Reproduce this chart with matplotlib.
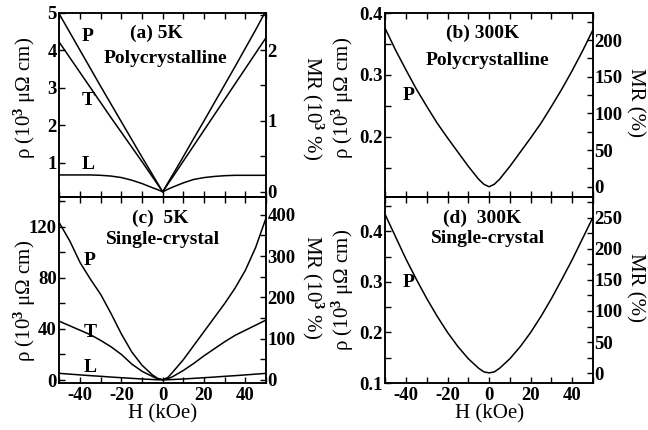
import matplotlib
matplotlib.use("Agg")
import matplotlib.pyplot as plt
from matplotlib.ticker import MultipleLocator

# field grid shared by every curve (kOe)
H = [-50, -45, -40, -35, -30, -25, -20, -15, -10, -5, -2.5, 0,
     2.5, 5, 10, 15, 20, 25, 30, 35, 40, 45, 50]

# (a) 5K polycrystalline, rho in 10^3 uOhm cm
rho_a_P = [4.95, 4.47, 3.99, 3.51, 3.03, 2.56, 2.09, 1.62, 1.15, 0.69, 0.46, 0.23,
           0.47, 0.70, 1.17, 1.65, 2.12, 2.60, 3.08, 3.56, 4.05, 4.54, 5.05]
rho_a_T = [4.20, 3.80, 3.40, 3.00, 2.60, 2.20, 1.81, 1.42, 1.03, 0.63, 0.43, 0.23,
           0.44, 0.64, 1.05, 1.46, 1.87, 2.28, 2.69, 3.10, 3.51, 3.92, 4.33]
rho_a_L = [0.68, 0.68, 0.68, 0.68, 0.67, 0.65, 0.61, 0.54, 0.45, 0.34, 0.29, 0.23,
           0.30, 0.36, 0.47, 0.56, 0.61, 0.64, 0.66, 0.67, 0.67, 0.67, 0.67]

# (b) 300K polycrystalline
rho_b_P = [0.375, 0.340, 0.308, 0.277, 0.249, 0.222, 0.198, 0.175, 0.152, 0.131, 0.123, 0.119,
           0.123, 0.131, 0.152, 0.175, 0.198, 0.222, 0.249, 0.277, 0.307, 0.339, 0.373]

# (c) 5K single crystal
rho_c_P = [123, 109, 92, 79, 67, 52, 36, 22, 11.5, 4, 1.3, 0.2,
           2, 6.5, 16, 27, 38, 49, 60, 72, 86, 104, 127]
rho_c_T = [46, 42.5, 39, 35.5, 31, 26, 20, 12.5, 6.8, 2.8, 1, 0.2,
           1, 2.8, 7.5, 13, 19, 24.5, 30, 35, 39, 43, 47]
rho_c_L = [5.2, 4.6, 4.0, 3.4, 2.9, 2.3, 1.8, 1.3, 0.8, 0.4, 0.2, 0.1,
           0.2, 0.4, 0.8, 1.3, 1.8, 2.3, 2.9, 3.4, 4.0, 4.6, 5.2]

# (d) 300K single crystal
rho_d_P = [0.433, 0.389, 0.345, 0.305, 0.267, 0.232, 0.200, 0.172, 0.148, 0.129, 0.122, 0.120,
           0.122, 0.129, 0.148, 0.172, 0.200, 0.232, 0.267, 0.305, 0.344, 0.386, 0.428]

plt.rcParams.update({
    "font.family": "Liberation Serif",
    "font.weight": "bold",
    "font.size": 13.5,
    "mathtext.fontset": "custom",
    "mathtext.rm": "Liberation Serif:bold",
    "mathtext.default": "rm",
    "axes.unicode_minus": False,
    "axes.linewidth": 1.1,
    "lines.linewidth": 1.1,
})

RHO_LABEL = "ρ (10$^3$ μΩ cm)"


def setup_panel(ax, ylim, ymaj, ymin, mrlim, mrmaj, mrmin, mrlabel,
                show_x, rho_xy, mr_xy):
    ax.set_xlim(-50, 50)
    ax.set_ylim(*ylim)
    ax.xaxis.set_major_locator(MultipleLocator(20))
    ax.xaxis.set_minor_locator(MultipleLocator(10))
    ax.yaxis.set_major_locator(MultipleLocator(ymaj))
    ax.yaxis.set_minor_locator(MultipleLocator(ymin))
    ax.tick_params(which="both", direction="in", top=True, bottom=True,
                   left=True, right=False, length=4, width=1.0)
    ax.tick_params(axis="y", pad=2)
    ax.tick_params(axis="x", pad=3, labelbottom=show_x)
    ax.set_ylabel(RHO_LABEL, fontsize=15)
    ax.yaxis.set_label_coords(*rho_xy)
    if show_x:
        ax.set_xlabel("H (kOe)", fontsize=15, labelpad=0)

    tw = ax.twinx()
    tw.set_ylim(*mrlim)
    tw.yaxis.set_major_locator(MultipleLocator(mrmaj))
    tw.yaxis.set_minor_locator(MultipleLocator(mrmin))
    tw.tick_params(which="both", direction="in", length=4, width=1.0, pad=1)
    tw.set_ylabel(mrlabel, fontsize=15, rotation=270, va="bottom")
    tw.yaxis.set_label_coords(*mr_xy)
    return tw


def label(ax, x, y, s, size=14):
    ax.text(x, y, s, transform=ax.transAxes, ha="center", va="center", fontsize=size)


fig = plt.figure(figsize=(6.48, 4.30), dpi=100)
ax_a = fig.add_axes([0.0918, 0.5407, 0.3187, 0.4302])
ax_c = fig.add_axes([0.0918, 0.1093, 0.3187, 0.4314])
ax_b = fig.add_axes([0.5945, 0.5407, 0.3206, 0.4302])
ax_d = fig.add_axes([0.5945, 0.1093, 0.3206, 0.4314])

setup_panel(ax_a, (0.08, 5.0), 1, 1, (-0.082, 2.53), 1, 0.5, "MR (10$^3$ %)",
            False, (-0.105, 0.54), (1.165, 0.486))
setup_panel(ax_b, (0.1016, 0.401), 0.1, 0.05, (-14.7, 237.5), 50, 25, "MR (%)",
            False, (-0.14, 0.54), (1.155, 0.516))
setup_panel(ax_c, (-2.35, 143.1), 40, 20, (-7.3, 442), 100, 50, "MR (10$^3$ %)",
            True, (-0.105, 0.44), (1.165, 0.517))
setup_panel(ax_d, (0.1, 0.467), 0.1, 0.05, (-16.1, 283), 50, 25, "MR (%)",
            True, (-0.14, 0.50), (1.155, 0.517))

for ax, curves in [(ax_a, [rho_a_P, rho_a_T, rho_a_L]),
                   (ax_b, [rho_b_P]),
                   (ax_c, [rho_c_P, rho_c_T, rho_c_L]),
                   (ax_d, [rho_d_P])]:
    for rho in curves:
        ax.plot(H, rho, color="black", lw=1.1)

label(ax_a, 0.47, 0.887, "(a) 5K")
label(ax_a, 0.513, 0.749, "Polycrystalline")
label(ax_a, 0.138, 0.868, "P")
label(ax_a, 0.138, 0.527, "T")
label(ax_a, 0.138, 0.176, "L")

label(ax_b, 0.47, 0.89, "(b) 300K")
label(ax_b, 0.49, 0.743, "Polycrystalline")
label(ax_b, 0.11, 0.554, "P")

label(ax_c, 0.49, 0.89, "(c)  5K")
label(ax_c, 0.50, 0.771, "Single-crystal")
label(ax_c, 0.148, 0.663, "P")
label(ax_c, 0.148, 0.27, "T")
label(ax_c, 0.148, 0.086, "L")

label(ax_d, 0.465, 0.89, "(d)  300K")
label(ax_d, 0.497, 0.78, "Single-crystal")
label(ax_d, 0.11, 0.544, "P")

fig.savefig("out.png", dpi=100)
